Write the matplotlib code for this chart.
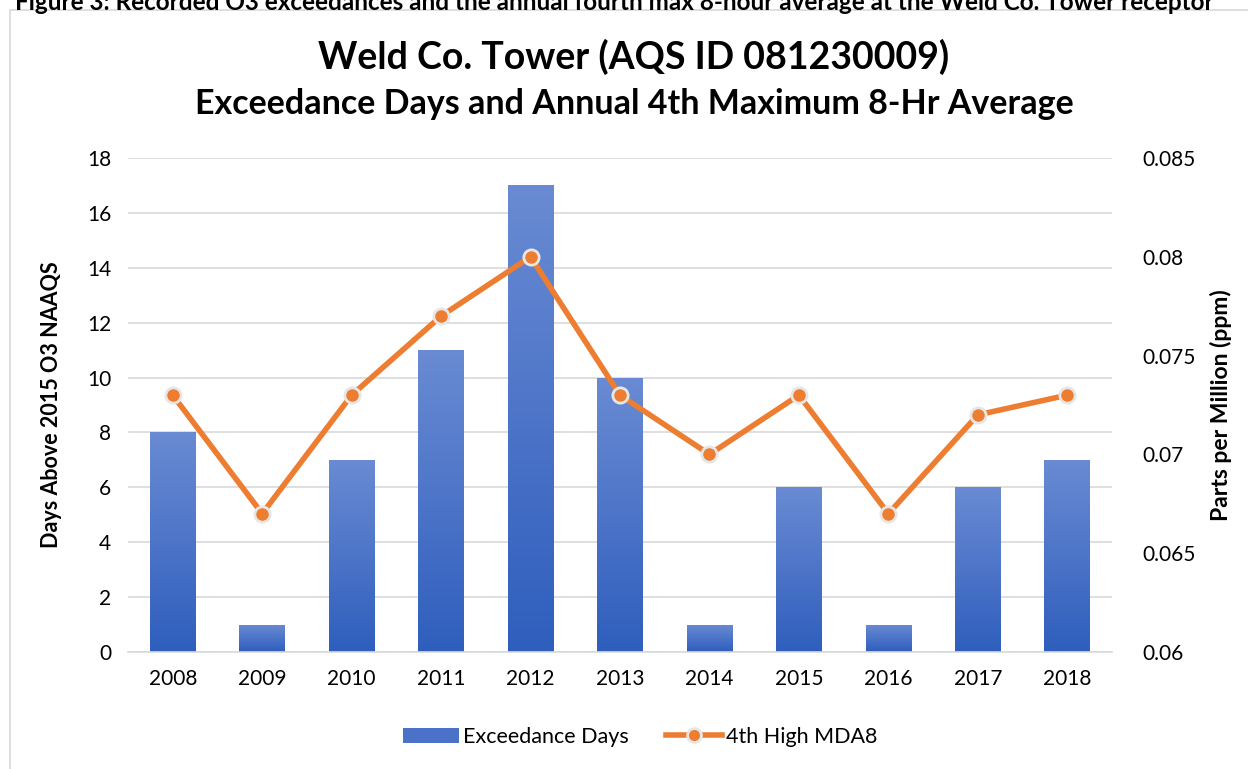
import numpy as np
import matplotlib.pyplot as plt
from matplotlib.colors import LinearSegmentedColormap
from matplotlib.patches import Rectangle
from matplotlib.lines import Line2D

plt.rcParams['font.family'] = ['Lato', 'DejaVu Sans']

years = ['2008', '2009', '2010', '2011', '2012', '2013', '2014', '2015', '2016', '2017', '2018']
exceed_days = [8, 1, 7, 11, 17, 10, 1, 6, 1, 6, 7]
mda8 = [0.073, 0.067, 0.073, 0.077, 0.080, 0.073, 0.070, 0.073, 0.067, 0.072, 0.073]

fig = plt.figure(figsize=(12.48, 7.69), dpi=100)

# outer chart border and (cropped) figure caption
fig.patches.append(Rectangle((10 / 1248, -0.05), 1.1, 1 - 10 / 769 + 0.05, transform=fig.transFigure,
                             fill=False, edgecolor='#d9d9d9', linewidth=1.2))
fig.text(0.012, 1 - 2 / 769, 'Figure 3: Recorded O3 exceedances and the annual fourth max 8-hour average at the Weld Co. Tower receptor',
         fontsize=17.5, fontweight='bold', va='center', ha='left')

ax = fig.add_axes([128 / 1248, 1 - 652 / 769, (1112 - 128) / 1248, (652 - 158) / 769])
x = np.arange(len(years))

cmap = LinearSegmentedColormap.from_list('bar', ['#2f5ebd', '#6a8bd3'])
grad = np.linspace(0, 1, 256).reshape(-1, 1)
bars = ax.bar(x, exceed_days, width=0.51, color='none', zorder=2)
for b in bars:
    x0, y0 = b.get_x(), b.get_y()
    w, h = b.get_width(), b.get_height()
    im = ax.imshow(grad, cmap=cmap, aspect='auto', origin='lower',
                   extent=[x0, x0 + w, y0, y0 + h], zorder=2)
    im.set_clip_path(b)

ax.set_xlim(-0.5, len(years) - 0.5)
ax.set_ylim(0, 18)
ax.set_yticks(range(0, 19, 2))
ax.set_xticks(x)
ax.set_xticklabels(years)
ax.grid(axis='y', color='#d9d9d9', linewidth=1.2, zorder=0)
ax.set_axisbelow(True)
for s in ['top', 'right', 'left']:
    ax.spines[s].set_visible(False)
ax.spines['bottom'].set_color('#d9d9d9')
ax.spines['bottom'].set_linewidth(1.2)
ax.tick_params(length=0, labelsize=15, pad=12)
ax.set_ylabel('Days Above 2015 O3 NAAQS', fontsize=15.5, fontweight='bold', labelpad=18)

ax2 = ax.twinx()
ax2.plot(x, mda8, color='#ed7d31', linewidth=4, marker='o', markersize=11,
         markerfacecolor='#ed7d31', markeredgecolor='#e6e6e6', markeredgewidth=2, zorder=3)
ax2.set_ylim(0.06, 0.085)
ax2.set_yticks([0.06, 0.065, 0.07, 0.075, 0.08, 0.085])
ax2.set_yticklabels(['0.06', '0.065', '0.07', '0.075', '0.08', '0.085'])
for s in ['top', 'right', 'left', 'bottom']:
    ax2.spines[s].set_visible(False)
ax2.tick_params(length=0, labelsize=15, pad=22)
ax2.set_ylabel('Parts per Million (ppm)', fontsize=16.5, fontweight='bold', labelpad=10)

fig.text(0.508, 1 - 57 / 769, 'Weld Co. Tower (AQS ID 081230009)', fontsize=27, fontweight='bold',
         ha='center', va='center')
fig.text(0.508, 1 - 104 / 769, 'Exceedance Days and Annual 4th Maximum 8-Hr Average', fontsize=24.5,
         fontweight='bold', ha='center', va='center')

handles = [Rectangle((0, 0), 1, 1, facecolor='#4a72c8'),
           Line2D([], [], color='#ed7d31', linewidth=4, marker='o', markersize=10,
                  markerfacecolor='#ed7d31', markeredgecolor='#e6e6e6', markeredgewidth=2)]
fig.legend(handles, ['Exceedance Days', '4th High MDA8'], loc='center', bbox_to_anchor=(0.513, 1 - 737 / 769),
           ncol=2, frameon=False, fontsize=15.5, handlelength=2.6, handletextpad=0.2, columnspacing=1.7)

fig.savefig('out.png', dpi=100)
